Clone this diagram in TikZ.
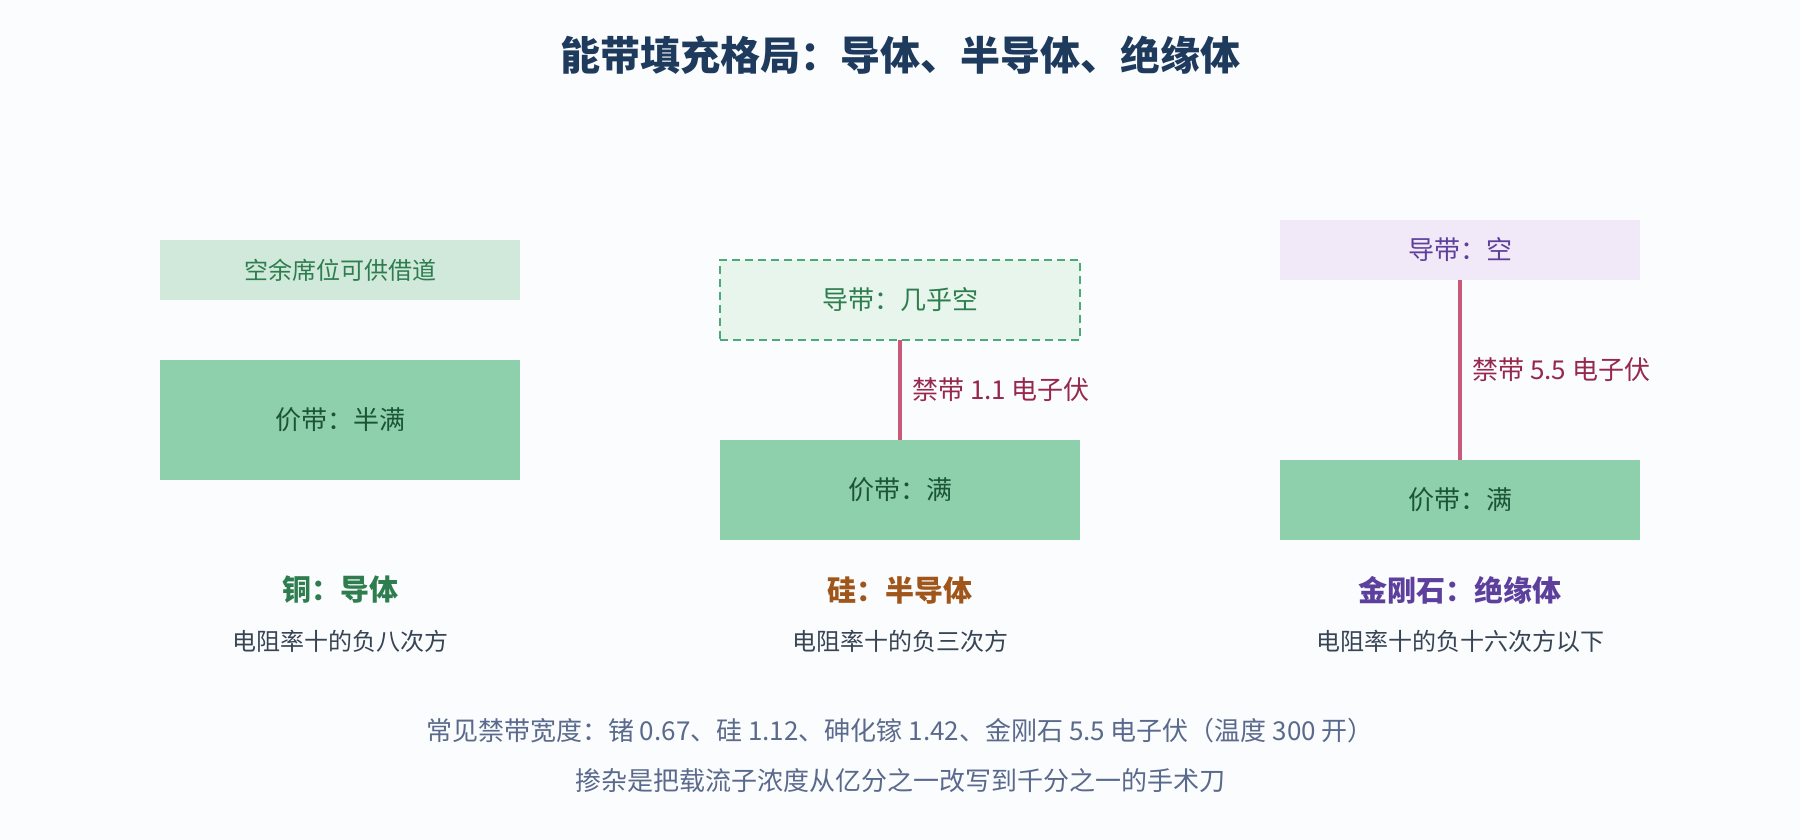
\documentclass[tikz,border=0pt]{standalone}
\usepackage{fontspec}
\setmainfont{Noto Sans CJK SC}
\usetikzlibrary{positioning}
\definecolor{bg}{RGB}{251,252,254}
\definecolor{titlec}{RGB}{30,58,92}
\definecolor{seatfill}{RGB}{209,233,218}
\definecolor{seattext}{RGB}{46,125,79}
\definecolor{valfill}{RGB}{142,208,171}
\definecolor{valtext}{RGB}{28,84,56}
\definecolor{semifill}{RGB}{232,245,236}
\definecolor{semidraw}{RGB}{76,170,120}
\definecolor{insfill}{RGB}{241,232,248}
\definecolor{instext}{RGB}{92,64,156}
\definecolor{gapline}{RGB}{198,90,120}
\definecolor{gaptext}{RGB}{150,40,75}
\definecolor{cuc}{RGB}{46,125,79}
\definecolor{sic}{RGB}{160,86,26}
\definecolor{diac}{RGB}{92,64,156}
\definecolor{subc}{RGB}{55,68,84}
\definecolor{notec}{RGB}{90,106,140}
\newcommand{\fs}[1]{\fontsize{#1}{#1}\selectfont}
\tikzset{
  band/.style={rectangle, minimum width=360, inner sep=0, outer sep=0},
  gapstyle/.style={draw=gapline, line width=4.5},
  gaplabel/.style={text=gaptext, font=\fs{26}, anchor=west, inner sep=0},
  mattitle/.style={font=\fs{29}\bfseries, inner sep=0},
  subtext/.style={text=subc, font=\fs{24}, inner sep=0},
  notetext/.style={text=notec, font=\fs{26}, inner sep=0}
}
\begin{document}
\begin{tikzpicture}[x=1pt,y=-1pt]
\path[fill=bg] (0,0) rectangle (1800,840);
\useasboundingbox (0,0) rectangle (1800,840);
\node[font=\fs{40}\bfseries, text=titlec, inner sep=0] (title) at (900,55) {能带填充格局：导体、半导体、绝缘体};
% copper
\node[band, fill=seatfill, minimum height=60, text=seattext, font=\fs{24}] (cuseat) at (340,270) {空余席位可供借道};
\node[band, fill=valfill, minimum height=120, text=valtext, font=\fs{26}] (cuval) at (340,420) {价带：半满};
% silicon
\node[band, fill=semifill, draw=semidraw, line width=2, dash pattern=on 8 off 5, minimum height=80, text=seattext, font=\fs{26}] (sicon) at (900,300) {导带：几乎空};
\node[band, fill=valfill, minimum height=100, text=valtext, font=\fs{26}] (sival) at (900,490) {价带：满};
\draw[gapstyle] (sicon.south) -- node[gaplabel, pos=0.5, xshift=10] (sigap) {禁带 1.1 电子伏} (sival.north);
% diamond
\node[band, fill=insfill, minimum height=60, text=instext, font=\fs{26}] (diacon) at (1460,250) {导带：空};
\node[band, fill=valfill, minimum height=80, text=valtext, font=\fs{26}] (diaval) at (1460,500) {价带：满};
\draw[gapstyle] (diacon.south) -- node[gaplabel, pos=0.5, xshift=10] (diagap) {禁带 5.5 电子伏} (diaval.north);
% titles
\node[mattitle, text=cuc] (cut) at (340,590) {铜：导体};
\node[mattitle, text=sic] (sit) at (900,590) {硅：半导体};
\node[mattitle, text=diac] (diat) at (1460,590) {金刚石：绝缘体};
\node[subtext] (cus) at (340,641) {电阻率十的负八次方};
\node[subtext] (sis) at (900,641) {电阻率十的负三次方};
\node[subtext] (dias) at (1460,641) {电阻率十的负十六次方以下};
% notes
\node[notetext] (note1) at (900,731) {常见禁带宽度：锗 0.67、硅 1.12、砷化镓 1.42、金刚石 5.5 电子伏（温度 300 开）};
\node[notetext] (note2) at (900,781) {掺杂是把载流子浓度从亿分之一改写到千分之一的手术刀};
\end{tikzpicture}
\end{document}
